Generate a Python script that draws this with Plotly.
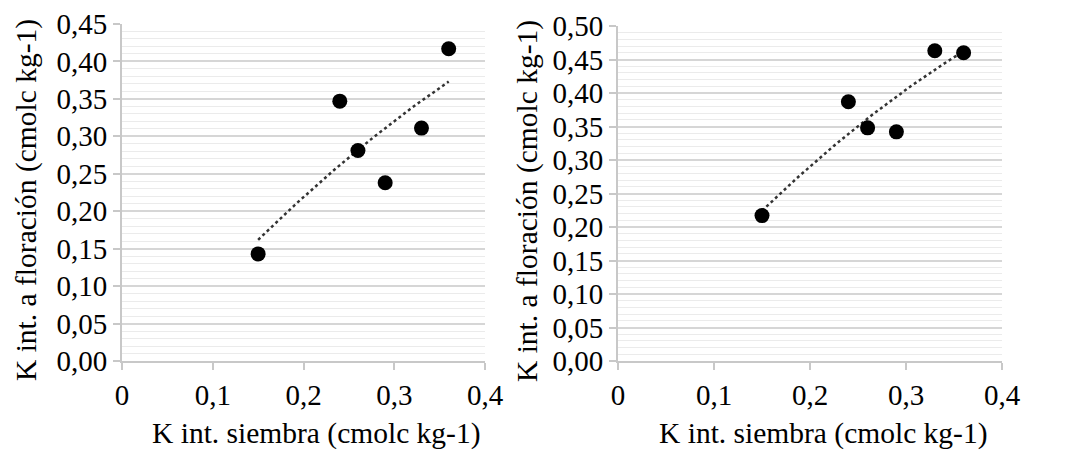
import numpy as np
import plotly.graph_objects as go

# Data
siembra = [0.15, 0.24, 0.26, 0.29, 0.33, 0.36]
floracion_a = [0.143, 0.347, 0.281, 0.238, 0.311, 0.417]
floracion_b = [0.217, 0.387, 0.348, 0.342, 0.463, 0.460]

x_ticks = [0, 0.1, 0.2, 0.3, 0.4]
x_title = "K int. siembra (cmolc kg-1)"
y_title = "K int. a floración (cmolc kg-1)"

FONT = "Times New Roman, Liberation Serif, Times, serif"
W, H = 1065, 453

fig = go.Figure()


def trend(x, y, deg=2):
    c = np.polyfit(x, y, deg)
    xs = np.linspace(min(x), max(x), 60)
    return xs, np.polyval(c, xs)


for i, ys in enumerate([floracion_a, floracion_b]):
    xa = "x" if i == 0 else "x2"
    ya = "y" if i == 0 else "y2"
    tx, ty = trend(siembra, ys)
    fig.add_trace(go.Scatter(x=tx, y=ty, mode="lines",
                             line=dict(color="#333333", width=2.5, dash="dot"),
                             xaxis=xa, yaxis=ya, showlegend=False, hoverinfo="skip"))
    fig.add_trace(go.Scatter(x=siembra, y=ys, mode="markers",
                             marker=dict(color="black", size=15),
                             xaxis=xa, yaxis=ya, showlegend=False))

ybot = (H - 361) / H
common_x = dict(range=[0, 0.4], tickvals=x_ticks, showgrid=False, zeroline=False,
                showline=True, linecolor="#c8c8c8", linewidth=2,
                ticks="outside", ticklen=7, tickwidth=2, tickcolor="#c8c8c8",
                tickfont=dict(family=FONT, size=29, color="black"),
                automargin=False)
common_y = dict(dtick=0.05, tickformat=".2f", zeroline=False,
                showline=True, linecolor="#c8c8c8", linewidth=2,
                ticks="outside", ticklen=7, tickwidth=2, tickcolor="#c8c8c8",
                showgrid=True, gridcolor="#d6d6d6", gridwidth=2,
                minor=dict(dtick=0.01, showgrid=True, gridcolor="#ebebeb", gridwidth=1),
                tickfont=dict(family=FONT, size=29, color="black"),
                automargin=False)

fig.update_layout(
    template="none",
    width=W, height=H,
    margin=dict(l=0, r=0, t=0, b=0, pad=0),
    paper_bgcolor="white", plot_bgcolor="white",
    separators=",.",
    font=dict(family=FONT, color="black", size=29),
    xaxis=dict(common_x, domain=[122 / W, 485 / W], anchor="y"),
    yaxis=dict(common_y, domain=[ybot, (H - 24) / H], range=[0, 0.45], anchor="x"),
    xaxis2=dict(common_x, domain=[618 / W, 1002 / W], anchor="y2"),
    yaxis2=dict(common_y, domain=[ybot, (H - 26) / H], range=[0, 0.50], anchor="x2"),
)

annots = [
    dict(text=x_title, x=316.7 / W, y=(H - 433) / H),
    dict(text=x_title, x=823 / W, y=(H - 433) / H),
    dict(text=y_title, x=26 / W, y=(H - 200) / H, textangle=-90),
    dict(text=y_title, x=527 / W, y=(H - 201) / H, textangle=-90),
]
for a in annots:
    fig.add_annotation(xref="paper", yref="paper", showarrow=False,
                       xanchor="center", yanchor="middle",
                       font=dict(family=FONT, size=29.5, color="black"), **a)

fig.write_html("out.html")
